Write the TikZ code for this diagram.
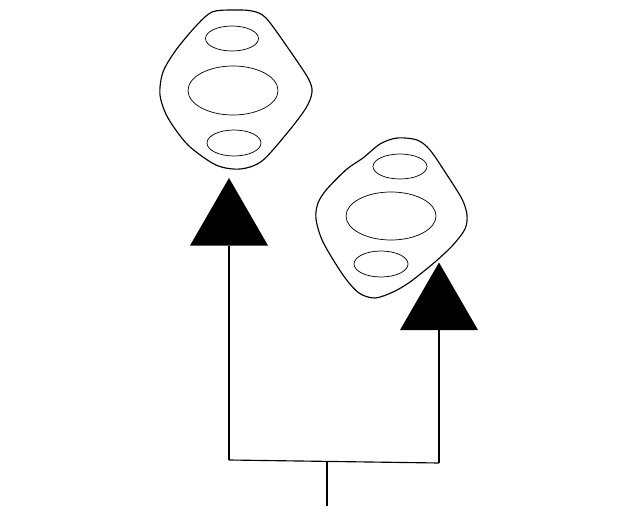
\documentclass[tikz,border=0pt]{standalone}
\usepackage{tikz}
\usetikzlibrary{shapes,calc,positioning}
\tikzset{
	% Specifications for style of shapes:
	blob/.style = {line width=0.4mm, draw=black},
	cell/.style = {line width=0.25mm, draw=black},
	head/.style = {regular polygon, regular polygon sides=3,
	fill=black, minimum size=90pt,
	inner sep=0pt, outer sep=0pt},
	branch/.style = {line width=0.4mm, draw=black},
}

\begin{document}
\begin{tikzpicture}[x=1pt, y=-1pt]
	\useasboundingbox (0,0) rectangle (640,516);
		% left blob
		\draw[blob] plot[smooth cycle, tension=0.5] coordinates {(212,12) (232,10) (252,11) (266,18) (288,48) (308,78) (312,92) (306,108) (288,132) (262,161) (240,169) (216,165) (188,145) (168,118) (160,95) (163,72) (176,50) (196,26)};
		\draw[cell] (232,38.5) ellipse [x radius=26.5, y radius=12.5];
		\draw[cell] (233,90.5) ellipse [x radius=45, y radius=24.5];
		\draw[cell] (234,143) ellipse [x radius=27, y radius=13];
		% right blob
		\draw[blob] plot[smooth cycle, tension=0.5] coordinates {(397,138) (417,140) (430,150) (447,175) (462,199) (467,215) (465,229) (453,245) (435,262) (410,282) (393,292) (375,298) (359,293) (343,275) (323,242) (316,219) (318,203) (327,189) (347,169) (363,158) (380,144)};
		\draw[cell] (400,166.5) ellipse [x radius=27, y radius=12.5];
		\draw[cell] (391,216) ellipse [x radius=45, y radius=24];
		\draw[cell] (381,264) ellipse [x radius=27, y radius=13];
		% draw heads
		\node (headL)[head] at (229,223) {};
		\node (headR)[head] at (439,307.5) {};
		% connection coordinates for the branches
		\coordinate (root) at (327,506);
		\coordinate (join) at (327,461.4);
		\coordinate (joinL) at (229,460);
		\coordinate (joinR) at (439,463);
		% draw branches
		\draw[branch] (root) -- (join);
		\draw[branch] (joinL) -- (joinR);
		\draw[branch] (joinL) -- (headL.south);
		\draw[branch] (joinR) -- (headR.south);
	\end{tikzpicture}
\end{document}
